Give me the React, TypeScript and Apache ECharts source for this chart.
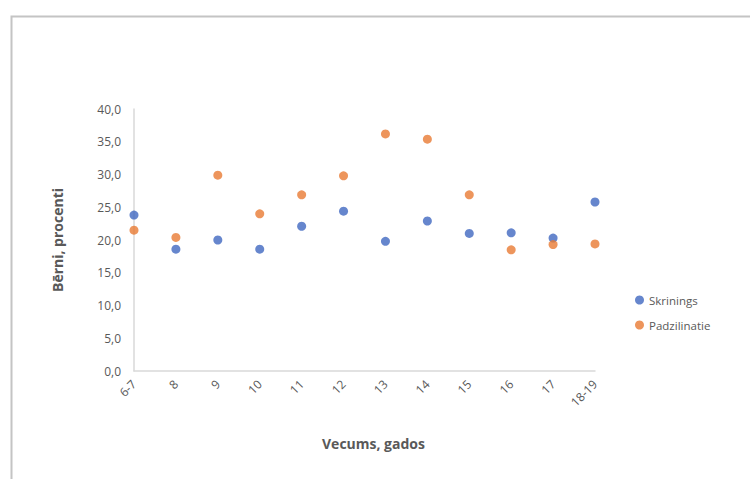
import React, { useEffect, useRef } from "react";
import * as echarts from "echarts";

const ageGroups = ["6-7", "8", "9", "10", "11", "12", "13", "14", "15", "16", "17", "18-19"];
const skrinings = [23.8, 18.6, 20.0, 18.6, 22.1, 24.4, 19.8, 22.9, 21.0, 21.1, 20.3, 25.8];
const padzilinatie = [21.5, 20.4, 29.9, 24.0, 26.9, 29.8, 36.2, 35.4, 26.9, 18.5, 19.3, 19.4];

const textColor = "#595959";
const fontFamily = "'Open Sans', 'Liberation Sans', sans-serif";

export default function App() {
  const ref = useRef<HTMLDivElement>(null);

  useEffect(() => {
    if (!ref.current) return;
    const chart = echarts.init(ref.current, undefined, { renderer: "svg" });
    chart.setOption({
      animation: false,
      backgroundColor: "#ffffff",
      textStyle: { fontFamily },
      graphic: [
        {
          type: "rect",
          left: 9,
          top: 14,
          shape: { width: 800, height: 500 },
          style: { fill: "none", stroke: "#c4c4c4", lineWidth: 2 },
          silent: true,
        },
      ],
      grid: { left: 134, top: 109, right: 155, bottom: 108 },
      legend: {
        orient: "vertical",
        left: 630,
        top: 289,
        itemWidth: 9,
        itemHeight: 9,
        itemGap: 13,
        icon: "circle",
        textStyle: { color: textColor, fontSize: 11.5, fontFamily },
        data: ["Skrinings", "Padzilinatie"],
      },
      xAxis: {
        type: "category",
        data: ageGroups,
        boundaryGap: false,
        name: "Vecums, gados",
        nameLocation: "middle",
        nameGap: 65,
        nameTextStyle: {
          color: textColor,
          fontSize: 14,
          fontWeight: "bold",
          fontFamily,
          padding: [0, 0, 0, 18],
        },
        axisLine: { show: true, lineStyle: { color: "#d9d9d9", width: 1.5 } },
        axisTick: { show: false },
        splitLine: { show: false },
        axisLabel: {
          rotate: 45,
          interval: 0,
          margin: 11,
          color: textColor,
          fontSize: 12,
          fontFamily,
        },
      },
      yAxis: {
        type: "value",
        min: 0,
        max: 40,
        interval: 5,
        name: "Bērni, procenti",
        nameLocation: "middle",
        nameGap: 70,
        nameTextStyle: { color: textColor, fontSize: 14, fontWeight: "bold", fontFamily },
        axisLine: { show: true, lineStyle: { color: "#d9d9d9", width: 1.5 } },
        axisTick: { show: false },
        splitLine: { show: false },
        axisLabel: {
          margin: 13,
          color: textColor,
          fontSize: 12,
          fontFamily,
          formatter: (v: number) => v.toFixed(1).replace(".", ","),
        },
      },
      series: [
        {
          name: "Skrinings",
          type: "scatter",
          data: skrinings,
          symbol: "circle",
          symbolSize: 9,
          itemStyle: { color: "#4068C0" },
        },
        {
          name: "Padzilinatie",
          type: "scatter",
          data: padzilinatie,
          symbol: "circle",
          symbolSize: 9,
          itemStyle: { color: "#E87B33" },
        },
      ],
    });
    return () => chart.dispose();
  }, []);

  return (
    <div
      ref={ref}
      style={{ position: "fixed", left: 0, top: 0, width: 750, height: 479 }}
    />
  );
}
